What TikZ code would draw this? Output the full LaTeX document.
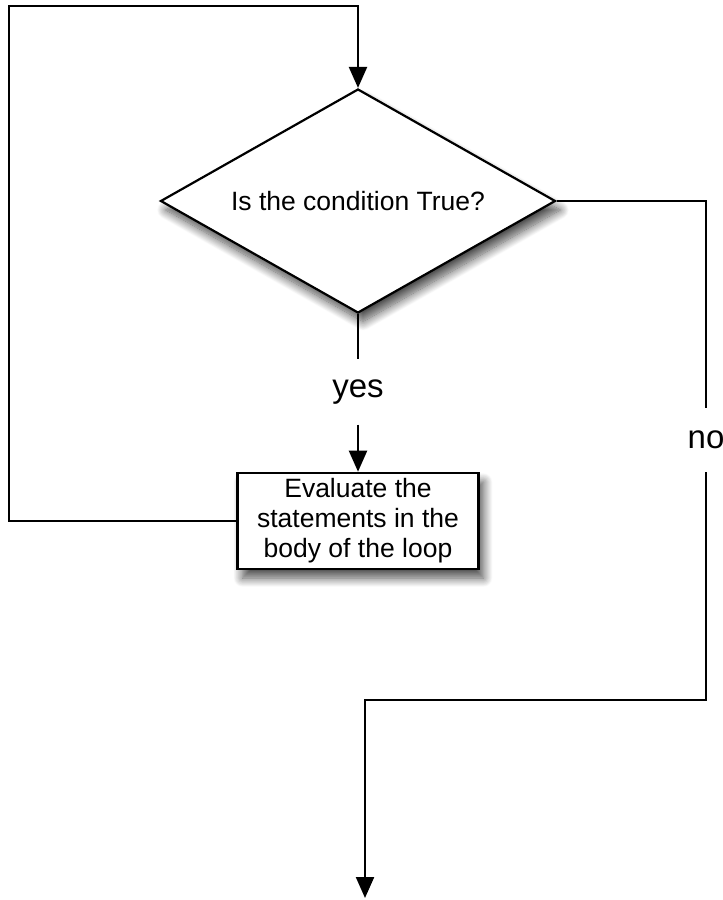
\documentclass[tikz,border=0pt]{standalone}
\usepackage{fontspec}
\setmainfont{Liberation Sans}
\usetikzlibrary{shapes.geometric,arrows.meta,shadows.blur}
\begin{document}
\begin{tikzpicture}[x=1pt,y=-1pt,
  line/.style={draw=black,line width=2.2pt},
  arr/.style={line,-{Triangle[width=18pt,length=21pt]}},
  shad/.style={blur shadow={shadow xshift=5pt,shadow yshift=-9pt,shadow blur radius=9pt,shadow blur steps=14,shadow opacity=70}},
  decision/.style={diamond,draw=black,line width=2.2pt,fill=white,inner sep=0pt,
    minimum width=395pt,minimum height=224pt,aspect=1.76,font=\fontsize{26.5}{30}\selectfont,shad},
  process/.style={rectangle,draw=black,line width=2.6pt,fill=white,inner sep=0pt,
    minimum width=241pt,minimum height=96pt,align=center,font=\fontsize{26.5}{30}\selectfont,shad},
  lbl/.style={inner sep=0pt,font=\fontsize{33}{36}\selectfont}]
\useasboundingbox (0,0) rectangle (723,900);
\node[decision] (dia) at (358,201) {Is the condition True?};
\node[process] (box) at (358,521) {\raisebox{-3pt}{\parbox{241pt}{\centering Evaluate the\\statements in the\\body of the loop}}};
\node[lbl,minimum height=65pt] (yes) at (358,392) {yes};
\node[lbl,minimum height=64pt] (no) at (706,440) {no};
\coordinate (tl) at (9,6);
\coordinate (bend) at (706,700);
\coordinate (endp) at (365,898);
\draw[arr] (box.west) -| (tl) -| (dia.north);
\draw[line] (dia.south) -- (yes.north);
\draw[arr] (yes.south) -- (box.north);
\draw[line] (dia.east) -| (no.north);
\draw[arr] (no.south) -- (bend) -| (endp);
\end{tikzpicture}
\end{document}
